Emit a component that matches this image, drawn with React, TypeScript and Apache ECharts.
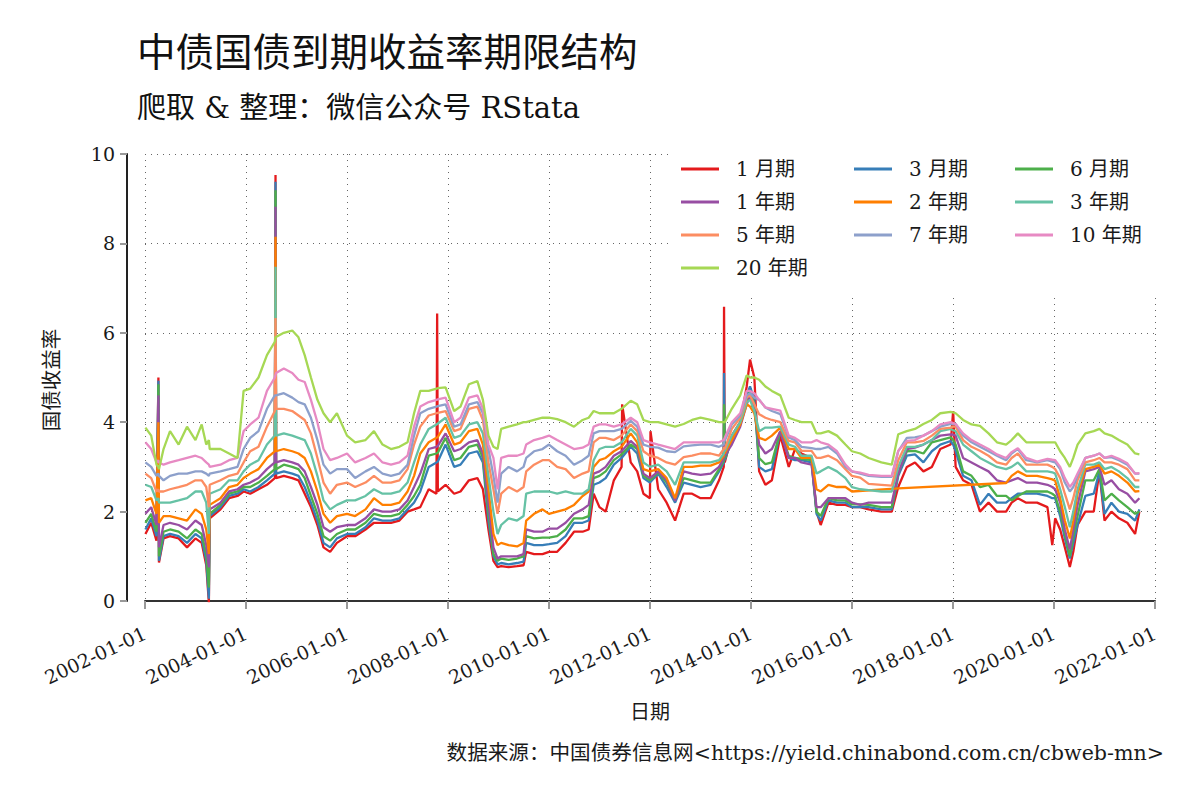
import { useEffect, useRef } from "react";
import * as echarts from "echarts";

// 观测日期（按季度左右取点，另加几个尖峰日）
const DATES = [
  "2002-01-04", "2002-02-15", "2002-03-25", "2002-04-08", "2002-04-12", "2002-05-15", "2002-07-01", "2002-09-01", "2002-11-01", "2003-01-01",
  "2003-02-15", "2003-03-20", "2003-04-08", "2003-04-14", "2003-07-01", "2003-09-01", "2003-11-01", "2003-12-15", "2004-02-01", "2004-04-01",
  "2004-06-01", "2004-07-28", "2004-08-02", "2004-08-06", "2004-10-01", "2004-12-01", "2005-01-15", "2005-03-01", "2005-04-15", "2005-06-01",
  "2005-07-15", "2005-09-01", "2005-10-20", "2006-01-01", "2006-03-01", "2006-05-15", "2006-07-15", "2006-09-15", "2006-11-15", "2007-01-15",
  "2007-03-15", "2007-05-01", "2007-06-15", "2007-08-15", "2007-10-10", "2007-10-15", "2007-10-20", "2007-12-15", "2008-02-15", "2008-04-01",
  "2008-06-01", "2008-08-01", "2008-09-10", "2008-10-20", "2008-11-25", "2008-12-25", "2009-01-20", "2009-03-15", "2009-05-15", "2009-07-01",
  "2009-07-20", "2009-09-15", "2009-11-15", "2010-01-01", "2010-03-01", "2010-05-01", "2010-07-01", "2010-09-01", "2010-10-15", "2010-11-20",
  "2011-01-01", "2011-02-15", "2011-04-15", "2011-06-10", "2011-06-14", "2011-08-15", "2011-10-01", "2011-11-15", "2012-01-01", "2012-01-05",
  "2012-03-01", "2012-05-01", "2012-07-01", "2012-09-01", "2012-11-01", "2013-01-01", "2013-03-15", "2013-05-15", "2013-06-18", "2013-06-20",
  "2013-06-25", "2013-08-15", "2013-10-15", "2013-12-01", "2013-12-25", "2014-01-25", "2014-03-01", "2014-04-15", "2014-06-01", "2014-08-01",
  "2014-10-01", "2014-11-15", "2015-01-01", "2015-03-15", "2015-04-20", "2015-05-20", "2015-07-15", "2015-09-15", "2015-11-15", "2016-01-01",
  "2016-03-01", "2016-05-01", "2016-08-01", "2016-10-15", "2016-12-01", "2017-02-01", "2017-04-01", "2017-06-01", "2017-08-01", "2017-10-01",
  "2017-12-15", "2018-01-02", "2018-01-20", "2018-03-15", "2018-05-15", "2018-07-15", "2018-09-15", "2018-11-15", "2019-01-20", "2019-03-01",
  "2019-04-15", "2019-06-15", "2019-09-01", "2019-11-15", "2019-12-20", "2020-01-10", "2020-02-15", "2020-03-20", "2020-04-25", "2020-05-20",
  "2020-06-20", "2020-08-15", "2020-10-15", "2020-11-25", "2021-01-01", "2021-02-20", "2021-04-15", "2021-06-15", "2021-08-10", "2021-09-10",
];

const M1 = [
  1.50, 1.75, 1.35, 5.00, 0.86, 1.40, 1.45, 1.40, 1.20, 1.40,
  1.30, 0.80, -0.04, 1.85, 2.05, 2.30, 2.35, 2.45, 2.40, 2.50,
  2.60, 2.75, 9.53, 2.75, 2.80, 2.75, 2.70, 2.40, 2.10, 1.70,
  1.20, 1.10, 1.30, 1.45, 1.45, 1.60, 1.75, 1.75, 1.75, 1.80,
  2.00, 2.05, 2.10, 2.50, 2.40, 6.43, 2.45, 2.60, 2.40, 2.45,
  2.70, 2.75, 2.50, 1.60, 0.90, 0.76, 0.78, 0.76, 0.78, 0.80,
  1.10, 1.05, 1.05, 1.10, 1.10, 1.30, 1.55, 1.55, 1.60, 2.40,
  2.10, 2.00, 2.70, 3.00, 4.40, 3.10, 2.90, 2.40, 2.30, 3.80,
  2.50, 2.20, 1.80, 2.40, 2.40, 2.30, 2.30, 2.70, 3.00, 6.58,
  3.10, 3.70, 4.00, 4.80, 5.40, 5.00, 2.90, 2.60, 2.70, 3.70,
  3.00, 3.40, 3.30, 3.20, 2.00, 1.70, 2.20, 2.15, 2.15, 2.10,
  2.10, 2.05, 2.00, 2.00, 2.55, 3.00, 3.10, 2.90, 3.00, 3.40,
  3.50, 4.25, 3.00, 2.70, 2.60, 2.00, 2.20, 2.00, 2.00, 2.20,
  2.30, 2.20, 2.20, 2.10, 1.25, 1.85, 1.60, 1.20, 0.76, 1.10,
  1.70, 2.00, 2.00, 2.90, 1.80, 2.00, 1.85, 1.75, 1.50, 2.00,
];

const M3 = [
  1.60, 1.85, 1.45, 4.93, 0.90, 1.45, 1.50, 1.45, 1.30, 1.50,
  1.40, 0.90, 0.05, 1.90, 2.10, 2.35, 2.40, 2.50, 2.45, 2.55,
  2.70, 2.85, 9.38, 2.85, 2.90, 2.85, 2.80, 2.55, 2.20, 1.80,
  1.30, 1.20, 1.40, 1.50, 1.50, 1.65, 1.85, 1.80, 1.80, 1.85,
  2.05, 2.20, 2.45, 3.00, 3.10, 3.10, 3.12, 3.50, 3.00, 3.05,
  3.30, 3.35, 3.10, 1.80, 1.00, 0.82, 0.85, 0.82, 0.85, 0.88,
  1.30, 1.25, 1.25, 1.27, 1.30, 1.45, 1.75, 1.75, 1.80, 2.60,
  2.65, 2.75, 3.05, 3.20, 3.20, 3.45, 3.30, 2.75, 2.65, 2.65,
  2.85, 2.55, 2.20, 2.65, 2.60, 2.55, 2.60, 2.90, 3.10, 5.10,
  3.15, 3.60, 3.95, 4.60, 4.80, 4.50, 3.00, 2.90, 2.95, 3.80,
  3.20, 3.15, 3.15, 3.10, 1.95, 1.80, 2.25, 2.20, 2.20, 2.10,
  2.10, 2.10, 2.05, 2.05, 2.80, 3.25, 3.28, 3.10, 3.35, 3.50,
  3.58, 3.50, 3.36, 2.80, 2.70, 2.15, 2.40, 2.20, 2.20, 2.30,
  2.40, 2.40, 2.40, 2.35, 2.30, 2.30, 1.90, 1.40, 0.95, 1.30,
  1.70, 2.35, 2.40, 2.90, 1.95, 2.20, 2.00, 1.95, 1.80, 2.05,
];

const M6 = [
  1.75, 1.95, 1.55, 4.85, 1.00, 1.55, 1.60, 1.55, 1.40, 1.60,
  1.50, 1.05, 0.30, 1.95, 2.15, 2.40, 2.45, 2.55, 2.55, 2.65,
  2.80, 2.95, 9.19, 2.95, 3.05, 3.00, 2.95, 2.75, 2.35, 1.95,
  1.45, 1.35, 1.50, 1.60, 1.60, 1.75, 1.95, 1.90, 1.90, 1.95,
  2.15, 2.35, 2.60, 3.25, 3.30, 3.30, 3.32, 3.65, 3.15, 3.20,
  3.45, 3.50, 3.20, 2.00, 1.05, 0.90, 0.95, 0.92, 0.95, 1.00,
  1.45, 1.40, 1.42, 1.42, 1.45, 1.60, 1.85, 1.85, 1.90, 2.75,
  2.80, 2.90, 3.15, 3.28, 3.28, 3.50, 3.40, 2.80, 2.70, 2.70,
  2.88, 2.65, 2.25, 2.75, 2.70, 2.65, 2.65, 2.95, 3.15, 4.40,
  3.20, 3.60, 3.95, 4.50, 4.70, 4.40, 3.20, 3.06, 3.10, 3.80,
  3.25, 3.20, 3.18, 3.15, 2.00, 1.90, 2.30, 2.25, 2.25, 2.16,
  2.16, 2.15, 2.10, 2.10, 2.85, 3.35, 3.36, 3.30, 3.55, 3.60,
  3.66, 3.60, 3.50, 2.90, 2.80, 2.55, 2.60, 2.35, 2.35, 2.25,
  2.35, 2.45, 2.45, 2.45, 2.40, 2.35, 2.00, 1.50, 1.00, 1.45,
  1.90, 2.70, 2.70, 2.95, 2.25, 2.40, 2.25, 2.10, 1.95, 2.00,
];

const Y1 = [
  1.95, 2.10, 1.70, 4.60, 1.20, 1.70, 1.75, 1.70, 1.60, 1.80,
  1.70, 1.25, 0.75, 2.05, 2.20, 2.45, 2.50, 2.60, 2.65, 2.75,
  2.95, 3.10, 8.82, 3.10, 3.15, 3.10, 3.05, 2.90, 2.55, 2.15,
  1.65, 1.55, 1.65, 1.70, 1.70, 1.85, 2.05, 2.00, 2.00, 2.05,
  2.25, 2.55, 2.85, 3.40, 3.45, 3.45, 3.47, 3.75, 3.35, 3.40,
  3.55, 3.60, 3.30, 2.20, 1.20, 0.95, 1.00, 1.00, 1.00, 1.05,
  1.60, 1.55, 1.55, 1.62, 1.62, 1.75, 1.95, 2.05, 2.15, 2.85,
  2.90, 3.00, 3.25, 3.35, 3.35, 3.58, 3.45, 2.85, 2.75, 2.75,
  2.90, 2.70, 2.24, 2.90, 2.85, 2.82, 2.85, 3.00, 3.20, 3.50,
  3.25, 3.50, 3.90, 4.40, 4.60, 4.30, 3.50, 3.30, 3.40, 3.80,
  3.20, 3.20, 3.10, 3.05, 2.10, 2.10, 2.30, 2.30, 2.30, 2.20,
  2.15, 2.20, 2.20, 2.20, 2.85, 3.40, 3.43, 3.50, 3.60, 3.70,
  3.73, 3.72, 3.70, 3.20, 3.10, 3.00, 2.90, 2.70, 2.65, 2.70,
  2.75, 2.65, 2.65, 2.60, 2.55, 2.50, 2.20, 1.60, 1.15, 1.60,
  2.15, 2.90, 2.95, 3.00, 2.60, 2.70, 2.50, 2.40, 2.20, 2.30,
];

// 2 年期在 2016—2019 年间缺数据，图上直接连线
const Y2 = [
  2.25, 2.30, 1.95, 4.00, 1.75, 1.90, 1.90, 1.85, 1.80, 2.05,
  1.95, 1.60, 1.05, 2.15, 2.30, 2.55, 2.60, 2.75, 2.85, 2.95,
  3.20, 3.35, 8.15, 3.35, 3.40, 3.35, 3.30, 3.20, 2.90, 2.45,
  1.95, 1.75, 1.90, 1.95, 1.90, 2.05, 2.30, 2.15, 2.15, 2.20,
  2.45, 2.80, 3.30, 3.55, 3.65, 3.65, 3.67, 3.95, 3.50, 3.55,
  3.80, 3.85, 3.50, 2.50, 1.50, 1.25, 1.30, 1.25, 1.22, 1.30,
  1.80, 1.95, 2.05, 1.95, 2.00, 2.05, 2.15, 2.35, 2.45, 3.00,
  3.15, 3.20, 3.35, 3.45, 3.45, 3.75, 3.55, 2.95, 2.90, 2.90,
  2.95, 2.75, 2.30, 3.00, 3.00, 3.03, 3.03, 3.10, 3.25, 3.40,
  3.30, 3.60, 3.95, 4.40, 4.35, 4.20, 3.65, 3.60, 3.70, 3.88,
  3.40, 3.40, 3.20, 3.20, 2.50, 2.45, 2.60, 2.55, 2.55, 2.45,
  null, null, null, null, 2.52, null, null, null, null, null,
  null, null, null, null, null, null, null, null, 2.64, 2.80,
  2.90, 2.80, 2.80, 2.75, 2.72, 2.69, 2.30, 1.80, 1.40, 1.80,
  2.40, 2.95, 3.00, 3.05, 2.85, 2.90, 2.80, 2.65, 2.45, 2.46,
];

const Y3 = [
  2.60, 2.55, 2.25, 2.30, 2.20, 2.20, 2.20, 2.25, 2.30, 2.45,
  2.45, 2.20, 1.50, 2.40, 2.50, 2.70, 2.70, 2.90, 3.05, 3.15,
  3.50, 3.70, 7.48, 3.70, 3.75, 3.70, 3.65, 3.60, 3.30, 2.80,
  2.25, 2.05, 2.15, 2.25, 2.25, 2.35, 2.50, 2.40, 2.40, 2.45,
  2.65, 3.10, 3.50, 3.85, 3.95, 3.95, 3.97, 4.10, 3.65, 3.70,
  3.95, 4.00, 3.75, 2.80, 2.00, 1.50, 1.70, 1.85, 1.80, 1.90,
  2.40, 2.45, 2.45, 2.45, 2.40, 2.45, 2.40, 2.40, 2.50, 3.15,
  3.40, 3.45, 3.45, 3.55, 3.55, 3.85, 3.70, 3.10, 3.00, 3.00,
  3.05, 2.90, 2.60, 3.10, 3.10, 3.10, 3.10, 3.15, 3.30, 3.40,
  3.35, 3.70, 4.00, 4.45, 4.50, 4.25, 3.80, 3.88, 3.88, 3.90,
  3.50, 3.45, 3.25, 3.25, 2.85, 2.90, 3.00, 2.90, 2.75, 2.55,
  2.50, 2.48, 2.45, 2.45, 3.00, 3.45, 3.45, 3.50, 3.60, 3.80,
  3.85, 3.82, 3.80, 3.50, 3.35, 3.20, 3.10, 3.00, 2.95, 3.00,
  3.10, 2.90, 2.90, 2.90, 2.88, 2.85, 2.50, 2.10, 1.65, 2.00,
  2.50, 3.05, 3.05, 3.10, 2.95, 3.00, 2.90, 2.75, 2.55, 2.55,
];

const Y5 = [
  2.85, 2.75, 2.45, 2.50, 2.45, 2.45, 2.50, 2.55, 2.60, 2.70,
  2.70, 2.55, 2.10, 2.60, 2.70, 2.80, 2.85, 3.10, 3.35, 3.45,
  3.90, 4.25, 6.33, 4.30, 4.30, 4.25, 4.15, 4.05, 3.75, 3.20,
  2.65, 2.40, 2.60, 2.65, 2.55, 2.65, 2.80, 2.65, 2.65, 2.70,
  2.95, 3.50, 3.90, 4.15, 4.20, 4.20, 4.21, 4.25, 3.80, 3.85,
  4.30, 4.35, 4.05, 3.10, 2.50, 1.95, 2.40, 2.55, 2.45, 2.55,
  2.90, 3.05, 3.15, 3.15, 3.00, 2.95, 2.75, 2.85, 2.90, 3.55,
  3.65, 3.65, 3.60, 3.70, 3.70, 3.95, 3.80, 3.35, 3.25, 3.25,
  3.20, 3.10, 3.05, 3.22, 3.25, 3.30, 3.30, 3.25, 3.40, 3.45,
  3.40, 3.85, 4.10, 4.55, 4.60, 4.40, 4.18, 4.10, 4.05, 4.00,
  3.58, 3.55, 3.36, 3.36, 3.20, 3.20, 3.25, 3.15, 2.95, 2.80,
  2.76, 2.62, 2.60, 2.58, 3.15, 3.55, 3.55, 3.58, 3.70, 3.85,
  3.88, 3.90, 3.90, 3.60, 3.45, 3.36, 3.25, 3.10, 3.05, 3.20,
  3.30, 3.05, 3.05, 3.05, 3.00, 2.95, 2.75, 2.40, 2.05, 2.30,
  2.70, 3.10, 3.15, 3.20, 3.10, 3.10, 3.05, 2.95, 2.70, 2.70,
];

const Y7 = [
  3.10, 3.00, 2.80, 2.85, 2.80, 2.70, 2.80, 2.85, 2.85, 2.90,
  2.90, 2.85, 2.80, 2.85, 2.90, 2.95, 3.00, 3.40, 3.65, 3.80,
  4.30, 4.60, 4.60, 4.60, 4.65, 4.55, 4.45, 4.40, 4.10, 3.60,
  3.05, 2.85, 2.95, 2.95, 2.75, 2.90, 3.00, 2.85, 2.80, 2.85,
  3.05, 3.70, 4.20, 4.30, 4.35, 4.35, 4.36, 4.40, 3.90, 3.95,
  4.40, 4.45, 4.20, 3.40, 2.80, 2.20, 2.85, 3.00, 2.90, 3.00,
  3.20, 3.35, 3.40, 3.50, 3.35, 3.25, 3.05, 3.15, 3.25, 3.75,
  3.80, 3.80, 3.80, 3.85, 3.85, 4.03, 3.90, 3.50, 3.45, 3.45,
  3.43, 3.35, 3.33, 3.46, 3.48, 3.50, 3.50, 3.45, 3.50, 3.55,
  3.55, 3.95, 4.15, 4.60, 4.65, 4.55, 4.50, 4.33, 4.25, 4.18,
  3.66, 3.60, 3.45, 3.42, 3.40, 3.40, 3.45, 3.30, 3.00, 2.90,
  2.85, 2.80, 2.78, 2.78, 3.35, 3.65, 3.66, 3.70, 3.80, 3.90,
  3.96, 3.96, 3.96, 3.70, 3.55, 3.45, 3.35, 3.25, 3.15, 3.30,
  3.40, 3.15, 3.10, 3.15, 3.12, 3.10, 2.95, 2.65, 2.45, 2.55,
  2.80, 3.20, 3.25, 3.30, 3.20, 3.22, 3.15, 3.05, 2.85, 2.85,
];

const Y10 = [
  3.55, 3.40, 3.10, 3.15, 3.10, 3.05, 3.10, 3.15, 3.20, 3.25,
  3.20, 3.10, 3.05, 3.00, 3.05, 3.15, 3.20, 3.80, 3.95, 4.10,
  4.70, 5.00, 5.00, 5.10, 5.20, 5.10, 4.95, 4.90, 4.50, 4.00,
  3.40, 3.15, 3.20, 3.30, 3.10, 3.20, 3.30, 3.10, 3.05, 3.10,
  3.25, 3.90, 4.35, 4.45, 4.50, 4.50, 4.51, 4.55, 4.00, 4.10,
  4.55, 4.60, 4.30, 3.50, 3.20, 2.50, 3.20, 3.25, 3.25, 3.30,
  3.50, 3.60, 3.65, 3.70, 3.60, 3.50, 3.40, 3.43, 3.50, 3.90,
  3.95, 3.95, 3.90, 3.95, 3.95, 4.10, 4.00, 3.60, 3.55, 3.55,
  3.50, 3.45, 3.40, 3.55, 3.55, 3.55, 3.55, 3.55, 3.60, 3.60,
  3.65, 4.00, 4.20, 4.70, 4.70, 4.65, 4.50, 4.33, 4.30, 4.26,
  3.70, 3.65, 3.55, 3.55, 3.60, 3.55, 3.50, 3.35, 3.05, 2.90,
  2.87, 2.82, 2.80, 2.80, 3.36, 3.58, 3.60, 3.70, 3.80, 3.95,
  4.00, 3.98, 3.96, 3.75, 3.60, 3.50, 3.40, 3.28, 3.20, 3.33,
  3.42, 3.20, 3.12, 3.18, 3.16, 3.15, 3.00, 2.75, 2.55, 2.65,
  2.85, 3.20, 3.25, 3.30, 3.20, 3.25, 3.18, 3.08, 2.85, 2.86,
];

const Y20 = [
  3.88, 3.70, 3.05, 3.00, 2.95, 3.40, 3.80, 3.50, 3.90, 3.60,
  3.95, 3.50, 3.60, 3.40, 3.40, 3.30, 3.20, 4.70, 4.75, 5.00,
  5.50, 5.80, 5.90, 5.90, 6.00, 6.05, 5.90, 5.50, 5.00, 4.50,
  4.20, 4.00, 4.20, 3.70, 3.55, 3.60, 3.80, 3.50, 3.40, 3.45,
  3.55, 4.20, 4.70, 4.70, 4.75, 4.75, 4.76, 4.78, 4.25, 4.35,
  4.85, 4.92, 4.50, 3.70, 3.45, 3.40, 3.85, 3.90, 3.95, 4.00,
  4.00, 4.05, 4.10, 4.10, 4.07, 4.00, 3.90, 4.05, 4.10, 4.25,
  4.20, 4.20, 4.20, 4.30, 4.30, 4.48, 4.40, 4.05, 4.00, 4.00,
  4.00, 3.95, 3.90, 3.96, 4.05, 4.10, 4.05, 4.00, 4.00, 4.00,
  4.00, 4.30, 4.60, 5.05, 5.00, 5.00, 4.95, 4.80, 4.70, 4.60,
  4.10, 4.05, 4.00, 4.00, 3.75, 3.75, 3.80, 3.70, 3.50, 3.35,
  3.30, 3.20, 3.10, 3.05, 3.73, 3.80, 3.85, 3.96, 4.05, 4.20,
  4.23, 4.22, 4.20, 4.05, 3.95, 3.92, 3.75, 3.55, 3.50, 3.60,
  3.75, 3.55, 3.55, 3.55, 3.55, 3.55, 3.35, 3.20, 3.00, 3.20,
  3.50, 3.75, 3.80, 3.85, 3.75, 3.70, 3.60, 3.50, 3.30, 3.28,
];

const NAMES = ["1 月期", "3 月期", "6 月期", "1 年期", "2 年期", "3 年期", "5 年期", "7 年期", "10 年期", "20 年期"];
const VALUES = [M1, M3, M6, Y1, Y2, Y3, Y5, Y7, Y10, Y20];
// Set1 前五色 + Set2 后五色
const COLORS = ["#E41A1C", "#377EB8", "#4DAF4A", "#984EA3", "#FF7F00", "#66C2A5", "#FC8D62", "#8DA0CB", "#E78AC3", "#A6D854"];

const FONT = '"DejaVu Serif", "Noto Sans CJK SC", serif';
const INK = "#1a1a1a";

export default function App() {
  const elRef = useRef<HTMLDivElement | null>(null);

  useEffect(() => {
    if (!elRef.current) return;
    const chart = echarts.init(elRef.current, null, { renderer: "svg" });

    const grid = { lineStyle: { color: "#666", type: [1, 5], width: 1 } };
    const legendBase = {
      orient: "vertical",
      icon: "rect",
      itemWidth: 38,
      itemHeight: 3,
      itemGap: 11,
      padding: 0,
      top: 158,
      z: 5,
      selectedMode: false,
      textStyle: { fontSize: 20, lineHeight: 22, color: INK, fontFamily: FONT, padding: [0, 0, 0, 12] },
    };

    const option: any = {
      animation: false,
      backgroundColor: "#fff",
      textStyle: { fontFamily: FONT, color: INK },
      title: [
        { text: "中债国债到期收益率期限结构", left: 132, top: 28, textStyle: { fontSize: 38.5, fontWeight: "normal", color: "#111", fontFamily: FONT } },
        { text: "爬取 & 整理：微信公众号 RStata", left: 132, top: 88, textStyle: { fontSize: 29, fontWeight: "normal", color: "#111", fontFamily: FONT } },
        {
          text: "数据来源：中国债券信息网<https://yield.chinabond.com.cn/cbweb-mn>",
          right: 31,
          top: 738,
          textStyle: { fontSize: 20.6, fontWeight: "normal", color: INK, fontFamily: FONT },
        },
      ],
      grid: { left: 145, right: 45, top: 154, bottom: 199 },
      legend: [
        { ...legendBase, left: 681, data: [NAMES[0], NAMES[3], NAMES[6], NAMES[9]] },
        { ...legendBase, left: 854, data: [NAMES[1], NAMES[4], NAMES[7]] },
        { ...legendBase, left: 1015, data: [NAMES[2], NAMES[5], NAMES[8]] },
      ],
      xAxis: {
        type: "time",
        min: "2002-01-01",
        max: "2022-01-01",
        splitNumber: 10,
        offset: 19,
        axisLine: { show: true, lineStyle: { color: "#333", width: 2 } },
        axisTick: { show: true, length: 8, lineStyle: { color: "#999", width: 2 } },
        axisLabel: {
          rotate: 25,
          fontSize: 19,
          color: INK,
          fontFamily: FONT,
          margin: 12,
          formatter: "{yyyy}-{MM}-{dd}",
          showMinLabel: true,
          showMaxLabel: true,
          hideOverlap: false,
        },
        splitLine: { show: true, ...grid },
      },
      yAxis: {
        type: "value",
        min: 0,
        max: 10,
        interval: 2,
        offset: 18,
        axisLine: { show: true, lineStyle: { color: "#222", width: 2 } },
        axisTick: { show: true, length: 7, lineStyle: { color: "#999", width: 2 } },
        axisLabel: { fontSize: 19, color: INK, fontFamily: FONT, margin: 12 },
        splitLine: { show: true, ...grid },
      },
      graphic: [
        // 图例底下的白底，遮住网格线
        { type: "rect", z: 1, shape: { x: 668, y: 146, width: 495, height: 147 }, style: { fill: "#fff" } },
        {
          type: "text",
          x: 650,
          y: 712,
          style: { text: "日期", fontSize: 20, fontFamily: FONT, fill: INK, align: "center", verticalAlign: "middle" },
        },
        {
          type: "text",
          x: 52,
          y: 380,
          rotation: Math.PI / 2,
          style: { text: "国债收益率", fontSize: 20.5, fontFamily: FONT, fill: INK, align: "center", verticalAlign: "middle" },
        },
      ],
      series: NAMES.map((name, k) => ({
        name,
        type: "line",
        data: DATES.map((d, i) => [d, VALUES[k][i]]),
        showSymbol: false,
        symbol: "none",
        connectNulls: true,
        lineStyle: { color: COLORS[k], width: 2.3 },
        itemStyle: { color: COLORS[k] },
        emphasis: { disabled: true },
        z: 2,
      })),
    };

    chart.setOption(option);
    return () => chart.dispose();
  }, []);

  return (
    <div
      ref={elRef}
      style={{ position: "fixed", left: 0, top: 0, width: 1200, height: 800, background: "#fff" }}
    />
  );
}
